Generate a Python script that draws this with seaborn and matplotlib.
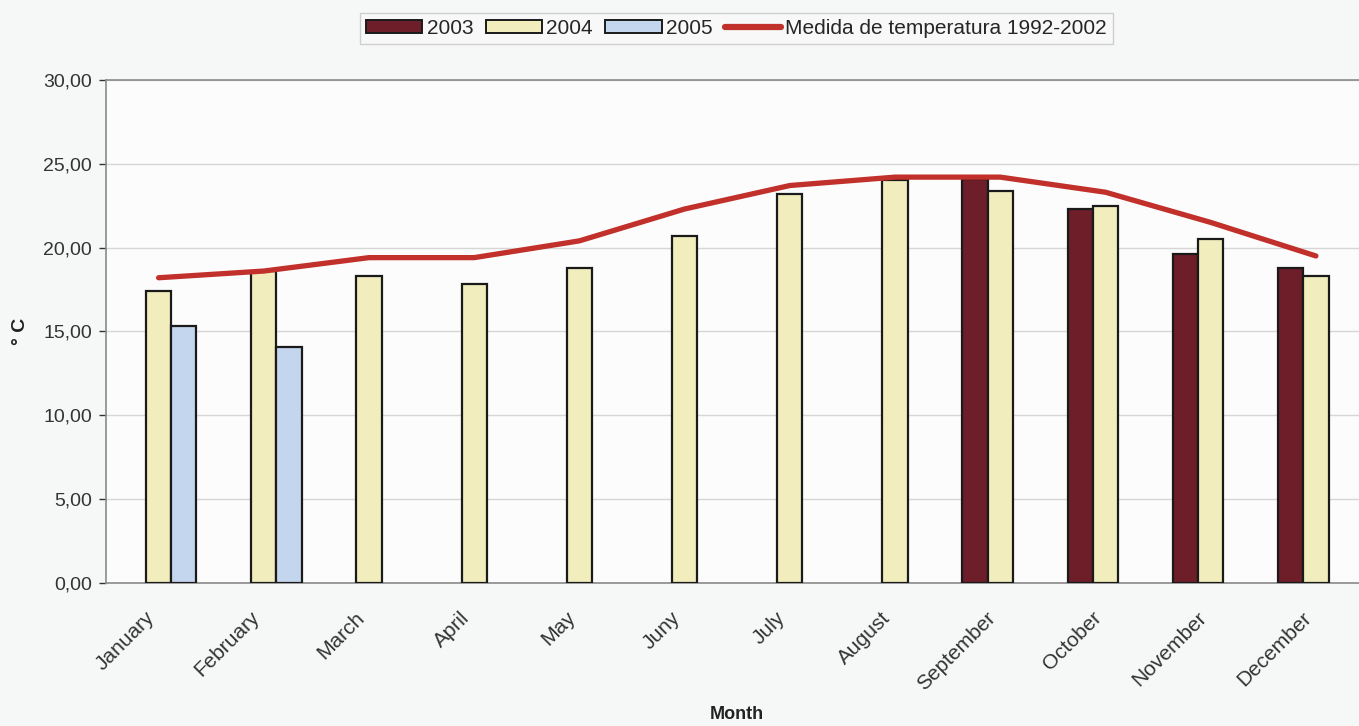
import numpy as np
import pandas as pd
import matplotlib
matplotlib.use("Agg")
import matplotlib.pyplot as plt
from matplotlib.patches import Patch
from matplotlib.lines import Line2D
from matplotlib.ticker import FuncFormatter, MultipleLocator
from matplotlib.transforms import ScaledTranslation
import seaborn as sns

months = ["January", "February", "March", "April", "May", "Juny",
          "July", "August", "September", "October", "November", "December"]
years = ["2003", "2004", "2005"]
t2003 = [np.nan, np.nan, np.nan, np.nan, np.nan, np.nan,
         np.nan, np.nan, 24.1, 22.3, 19.6, 18.8]
t2004 = [17.4, 18.6, 18.3, 17.8, 18.8, 20.7,
         23.2, 24.0, 23.4, 22.5, 20.5, 18.3]
t2005 = [15.3, 14.1, np.nan, np.nan, np.nan, np.nan,
         np.nan, np.nan, np.nan, np.nan, np.nan, np.nan]
mean_1992_2002 = [18.2, 18.6, 19.4, 19.4, 20.4, 22.3,
                  23.7, 24.2, 24.2, 23.3, 21.5, 19.5]
line_label = "Medida de temperatura 1992-2002"

bar_colors = {"2003": "#6e1e28", "2004": "#f1edbc", "2005": "#c3d6ee"}
line_color = "#c1302a"

df = pd.DataFrame({
    "Month": months * 3,
    "Year": [y for y in years for _ in months],
    "Temp": t2003 + t2004 + t2005,
})

sns.set_theme(style="white")
plt.rcParams["font.family"] = ["Liberation Sans", "DejaVu Sans"]

fig = plt.figure(figsize=(13.59, 7.26), dpi=100, facecolor="#f6f7f7")
ax = fig.add_axes([0.078, 0.197, 0.929, 0.693])
ax.set_facecolor("#fcfcfc")

sns.barplot(data=df, x="Month", y="Temp", hue="Year", order=months,
            hue_order=years, palette=bar_colors, width=0.72,
            edgecolor="#1a1a1a", linewidth=1.6, saturation=1,
            legend=False, ax=ax, zorder=3)

sns.lineplot(x=np.arange(len(months)), y=mean_1992_2002, color=line_color,
             linewidth=3.8, ax=ax, zorder=4, legend=False)

ax.set_ylim(0, 30)
ax.set_xlim(-0.5, len(months) - 0.5)
ax.yaxis.set_major_locator(MultipleLocator(5))
ax.yaxis.set_major_formatter(FuncFormatter(lambda v, p: f"{v:.2f}".replace(".", ",")))
ax.grid(axis="y", color="#d6d6d6", linewidth=1.0, zorder=0)
ax.set_axisbelow(True)
for s in ax.spines.values():
    s.set_color("#8a8a8a")
    s.set_linewidth(1.2)

ax.tick_params(axis="y", labelsize=14, colors="#333333", length=5, left=True, width=1, pad=5)
ax.tick_params(axis="x", labelsize=15, colors="#333333", length=0, pad=18)
shift = ScaledTranslation(-14 / 100, 0, fig.dpi_scale_trans)
for lab in ax.get_xticklabels():
    lab.set_rotation(45)
    lab.set_horizontalalignment("right")
    lab.set_rotation_mode("anchor")
    lab.set_transform(lab.get_transform() + shift)

ax.set_ylabel("° C", fontsize=14, fontweight="bold", color="#222222", labelpad=10)
ax.set_xlabel("Month", fontsize=13, fontweight="bold", color="#222222")
ax.xaxis.set_label_coords(0.5, -0.245)

handles = [Patch(facecolor=bar_colors[y], edgecolor="#1a1a1a", linewidth=1.4, label=y)
           for y in years]
handles.append(Line2D([0], [0], color=line_color, linewidth=4.5, label=line_label))
fig.legend(handles=handles, loc="center", bbox_to_anchor=(0.542, 0.961), ncol=4,
           fontsize=15, frameon=True, fancybox=False, edgecolor="#cfcfcf",
           facecolor="#f8f8f8", framealpha=1, handlelength=2.7, handleheight=0.6,
           handletextpad=0.2, columnspacing=0.6, borderpad=0.3)

fig.savefig("out.png", dpi=100, facecolor=fig.get_facecolor())
